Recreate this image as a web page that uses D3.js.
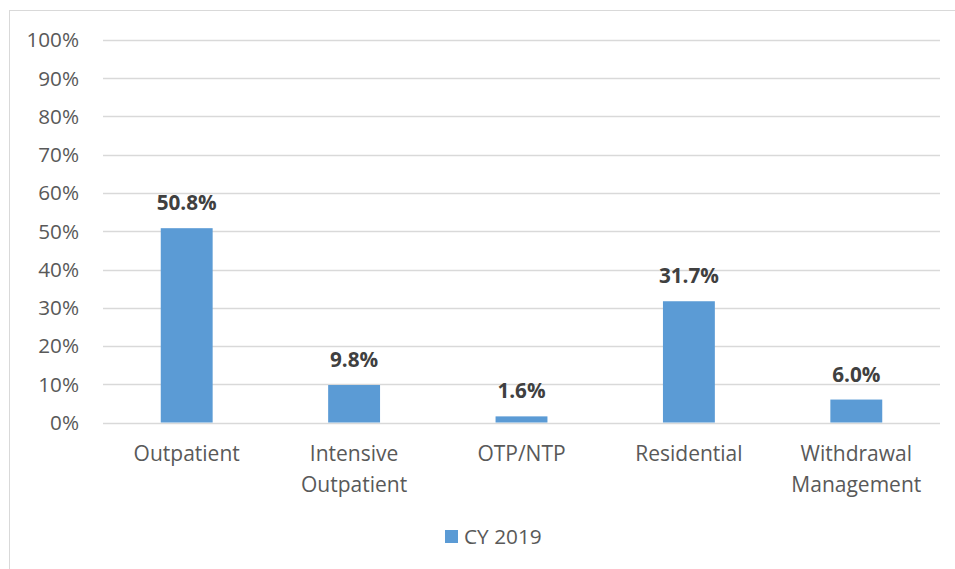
<!DOCTYPE html>
<html>
<head>
<meta charset="utf-8">
<script src="https://cdn.jsdelivr.net/npm/d3@7"></script>
<style>
  body { margin: 0; background: #fff; }
  svg text { font-family: "Open Sans", Lato, sans-serif; }
</style>
</head>
<body>
<svg id="chart" width="955" height="569"></svg>
<script>
// data
var categories = [["Outpatient"], ["Intensive", "Outpatient"], ["OTP/NTP"], ["Residential"], ["Withdrawal", "Management"]];
var values = [50.8, 9.8, 1.6, 31.7, 6.0];
var yTicks = [0, 10, 20, 30, 40, 50, 60, 70, 80, 90, 100];
var seriesName = "CY 2019";

var svg = d3.select("#chart");
var barColor = "#5B9BD5";

// outer chart border
svg.append("rect")
  .attr("x", 9.5).attr("y", 10.5)
  .attr("width", 960).attr("height", 600)
  .attr("fill", "none")
  .attr("stroke", "#d9d9d9");

var x = d3.scaleBand()
  .domain(d3.range(values.length))
  .range([103, 940])
  .paddingInner(0.69)
  .paddingOuter(0.345);

var y = d3.scaleLinear().domain([0, 100]).range([422.5, 40]);

// gridlines
svg.append("g").selectAll("line")
  .data(yTicks)
  .enter().append("line")
  .attr("x1", 103).attr("x2", 940)
  .attr("y1", function(d) { return Math.round(y(d)) + 0.5; })
  .attr("y2", function(d) { return Math.round(y(d)) + 0.5; })
  .attr("stroke", "#d9d9d9")
  .attr("stroke-width", 1.3);

// y axis labels
svg.append("g").selectAll("text")
  .data(yTicks)
  .enter().append("text")
  .attr("x", 79)
  .attr("y", function(d) { return y(d); })
  .attr("dy", "0.36em")
  .attr("text-anchor", "end")
  .attr("fill", "#595959")
  .attr("font-size", 20.7)
  .text(function(d) { return d + "%"; });

// bars
svg.append("g").selectAll("rect")
  .data(values)
  .enter().append("rect")
  .attr("x", function(d, i) { return x(i); })
  .attr("y", function(d) { return y(d); })
  .attr("width", x.bandwidth())
  .attr("height", function(d) { return y(0) - y(d); })
  .attr("fill", barColor);

// value labels
svg.append("g").selectAll("text")
  .data(values)
  .enter().append("text")
  .attr("x", function(d, i) { return x(i) + x.bandwidth() / 2; })
  .attr("y", function(d) { return y(d) - 18; })
  .attr("text-anchor", "middle")
  .attr("fill", "#404040")
  .attr("font-size", 20.7)
  .attr("font-weight", "bold")
  .text(function(d) { return d.toFixed(1) + "%"; });

// category labels
var cat = svg.append("g").selectAll("text")
  .data(categories)
  .enter().append("text")
  .attr("x", function(d, i) { return x(i) + x.bandwidth() / 2; })
  .attr("y", 461)
  .attr("text-anchor", "middle")
  .attr("fill", "#595959")
  .attr("font-size", 21);

cat.selectAll("tspan")
  .data(function(d) { return d; })
  .enter().append("tspan")
  .attr("x", function() { return d3.select(this.parentNode).attr("x"); })
  .attr("dy", function(d, i) { return i === 0 ? 0 : 30.5; })
  .text(function(d) { return d; });

// legend
var legend = svg.append("g");
legend.append("rect")
  .attr("x", 445).attr("y", 530)
  .attr("width", 13).attr("height", 13)
  .attr("fill", barColor);
legend.append("text")
  .attr("x", 464).attr("y", 544)
  .attr("fill", "#595959")
  .attr("font-size", 20.8)
  .text(seriesName);
</script>
</body>
</html>
